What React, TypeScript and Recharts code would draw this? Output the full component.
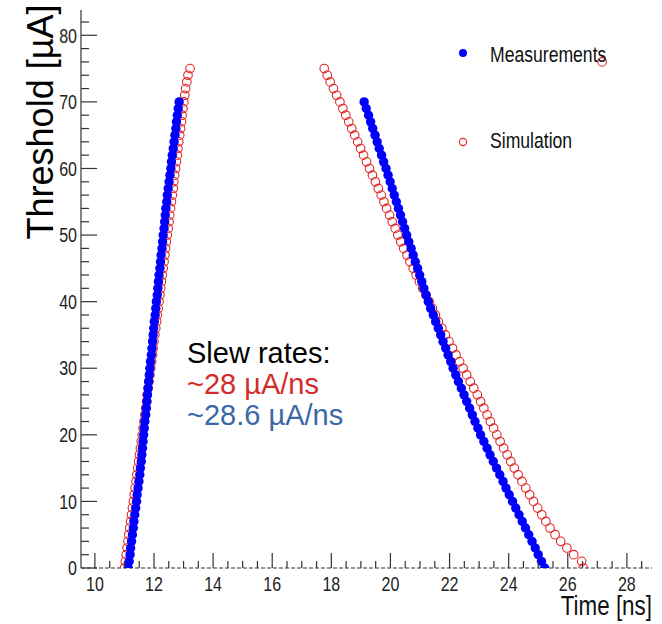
import React from 'react';
import { ScatterChart, Scatter, XAxis, YAxis, Legend } from 'recharts';

// ---- data ----
const measThresholds = [0,1,2,3,4,5,6,7,8,9,10,11,12,13,14,15,16,17,18,19,20,21,22,23,24,25,26,27,28,29,30,31,32,33,34,35,36,37,38,39,40,41,42,43,44,45,46,47,48,49,50,51,52,53,54,55,56,57,58,59,60,61,62,63,64,65,66,67,68,69,70];
const measRiseTime = [11.13,11.16,11.19,11.21,11.24,11.27,11.30,11.32,11.35,11.38,11.41,11.43,11.46,11.49,11.52,11.54,11.57,11.59,11.61,11.63,11.65,11.67,11.69,11.72,11.74,11.76,11.78,11.80,11.82,11.84,11.86,11.88,11.91,11.93,11.95,11.97,11.99,12.01,12.04,12.06,12.08,12.11,12.13,12.15,12.17,12.20,12.22,12.24,12.27,12.29,12.31,12.34,12.36,12.38,12.40,12.43,12.45,12.48,12.51,12.54,12.57,12.59,12.62,12.65,12.68,12.71,12.74,12.76,12.79,12.82,12.85];
const measFallTime = [25.22,25.11,25.00,24.90,24.79,24.68,24.57,24.46,24.35,24.24,24.13,24.02,23.91,23.81,23.70,23.59,23.48,23.37,23.27,23.16,23.05,22.96,22.86,22.77,22.68,22.58,22.49,22.40,22.30,22.21,22.12,22.04,21.95,21.87,21.78,21.70,21.62,21.53,21.45,21.36,21.28,21.21,21.13,21.06,20.99,20.92,20.84,20.77,20.70,20.62,20.55,20.48,20.41,20.34,20.27,20.20,20.13,20.06,19.99,19.92,19.85,19.77,19.70,19.62,19.55,19.48,19.40,19.33,19.26,19.18,19.11];

const simThresholds = [0,1,2,3,4,5,6,7,8,9,10,11,12,13,14,15,16,17,18,19,20,21,22,23,24,25,26,27,28,29,30,31,32,33,34,35,36,37,38,39,40,41,42,43,44,45,46,47,48,49,50,51,52,53,54,55,56,57,58,59,60,61,62,63,64,65,66,67,68,69,70,71,72,73,74,75];
const simRiseTime = [11.00,11.03,11.06,11.09,11.12,11.15,11.18,11.21,11.24,11.27,11.30,11.33,11.36,11.39,11.42,11.45,11.48,11.51,11.54,11.57,11.60,11.63,11.66,11.69,11.72,11.75,11.77,11.80,11.83,11.86,11.89,11.92,11.95,11.97,12.00,12.03,12.06,12.09,12.11,12.14,12.17,12.20,12.23,12.25,12.28,12.31,12.34,12.37,12.39,12.42,12.45,12.48,12.51,12.53,12.56,12.59,12.62,12.65,12.67,12.70,12.73,12.76,12.79,12.81,12.84,12.87,12.90,12.93,12.95,12.98,13.01,13.04,13.07,13.11,13.15,13.22];
const simFallTime = [26.52,26.47,26.20,25.97,25.76,25.57,25.40,25.26,25.12,24.98,24.84,24.71,24.58,24.45,24.32,24.19,24.07,23.95,23.83,23.71,23.60,23.49,23.38,23.27,23.16,23.05,22.94,22.82,22.70,22.58,22.46,22.34,22.22,22.10,21.98,21.86,21.74,21.62,21.52,21.42,21.31,21.20,21.09,20.98,20.87,20.77,20.66,20.56,20.45,20.35,20.25,20.16,20.06,19.97,19.87,19.78,19.69,19.59,19.49,19.39,19.29,19.19,19.09,18.99,18.89,18.79,18.69,18.59,18.49,18.39,18.29,18.18,18.07,17.96,17.86,17.76];
const simStrayTime = [27.16];
const simStrayThreshold = [76];

const xTicks = [10,10.5,11,11.5,12,12.5,13,13.5,14,14.5,15,15.5,16,16.5,17,17.5,18,18.5,19,19.5,20,20.5,21,21.5,22,22.5,23,23.5,24,24.5,25,25.5,26,26.5,27,27.5,28,28.5];
const yTicks = [0,2,4,6,8,10,12,14,16,18,20,22,24,26,28,30,32,34,36,38,40,42,44,46,48,50,52,54,56,58,60,62,64,66,68,70,72,74,76,78,80,82];

const xDomain: [number, number] = [9.53, 28.85];
const yDomain: [number, number] = [0, 83.8];

const measurements = [
  ...measThresholds.map((t, i) => ({ x: measRiseTime[i], y: t })),
  ...measThresholds.map((t, i) => ({ x: measFallTime[i], y: t })),
];
const simulation = [
  ...simThresholds.map((t, i) => ({ x: simRiseTime[i], y: t })),
  ...simThresholds.map((t, i) => ({ x: simFallTime[i], y: t })),
  ...simStrayTime.map((x, i) => ({ x, y: simStrayThreshold[i] })),
];

const SANS = "'Liberation Sans', Arial, sans-serif";
const AXIS = '#333';
const NARROW_SCALE = 0.8;

// condensed text (ROOT-style narrow Helvetica) made by horizontal scaling
const NText = ({ x, y, anchor = 'start', size, fill = '#222', children, dy }: any) => (
  <text
    transform={`translate(${x},${y}) scale(${NARROW_SCALE},1)`}
    x={0}
    y={0}
    dy={dy}
    textAnchor={anchor}
    fontFamily={SANS}
    fontSize={size}
    fill={fill}
  >
    {children}
  </text>
);

const YTick = (props: any) => {
  const { x, y, payload } = props;
  const v = payload.value;
  const major = Math.abs(v % 10) < 1e-6;
  return (
    <g>
      <line x1={x} y1={y} x2={x + (major ? 16 : 8)} y2={y} stroke={AXIS} strokeWidth={1.2} />
      {major && (
        <NText x={x - 4} y={y} dy="0.36em" anchor="end" size={20}>
          {v}
        </NText>
      )}
    </g>
  );
};

const XTick = (props: any) => {
  const { x, y, payload } = props;
  const v = payload.value;
  const major = Math.abs(v % 2) < 1e-6;
  return (
    <g>
      <line x1={x} y1={y} x2={x} y2={y - (major ? 15 : 7)} stroke={AXIS} strokeWidth={1.2} />
      {major && (
        <NText x={x} y={y + 23} anchor="middle" size={20}>
          {v}
        </NText>
      )}
    </g>
  );
};

const MeasDot = (p: any) => <circle cx={p.cx} cy={p.cy} r={4.7} fill="#0000ff" />;
const SimDot = (p: any) => <circle cx={p.cx} cy={p.cy} r={4.3} fill="none" stroke="#e02424" strokeWidth={1.1} />;

const LegendBox = () => (
  <div style={{ position: 'relative', width: 190, height: 125 }}>
    <svg width={190} height={125}>
      <circle cx={11} cy={15} r={4} fill="#0000ff" />
      <NText x={38} y={24} size={22} fill="#111">Measurements</NText>
      <circle cx={11} cy={104} r={3.6} fill="none" stroke="#e02424" strokeWidth={1.1} />
      <NText x={38} y={110} size={22} fill="#111">Simulation</NText>
    </svg>
  </div>
);

export default function App() {
  return (
    <div style={{ position: 'absolute', left: 0, top: 0, width: 662, height: 624, background: '#fff' }}>
      <ScatterChart width={662} height={624} margin={{ top: 10, right: 10, bottom: 0, left: 0 }}>
        <XAxis
          xAxisId="b"
          type="number"
          dataKey="x"
          domain={xDomain}
          allowDataOverflow
          ticks={xTicks}
          interval={0}
          height={56}
          tickSize={0}
          tickMargin={0}
          tickLine={false}
          tick={<XTick />}
          axisLine={{ stroke: AXIS, strokeWidth: 1.2, strokeDasharray: '4 2' }}
        />
        <XAxis
          xAxisId="t"
          orientation="top"
          type="number"
          domain={xDomain}
          allowDataOverflow
          height={0}
          tick={false}
          tickLine={false}
          axisLine={{ stroke: '#555', strokeWidth: 1 }}
        />
        <YAxis
          yAxisId="l"
          type="number"
          dataKey="y"
          domain={yDomain}
          allowDataOverflow
          ticks={yTicks}
          interval={0}
          width={81}
          tickSize={0}
          tickMargin={0}
          tickLine={false}
          tick={<YTick />}
          axisLine={{ stroke: AXIS, strokeWidth: 1.2 }}
        />
        <YAxis
          yAxisId="r"
          orientation="right"
          type="number"
          domain={yDomain}
          allowDataOverflow
          width={0}
          tick={false}
          tickLine={false}
          axisLine={{ stroke: '#555', strokeWidth: 1 }}
        />
        <Legend
          layout="vertical"
          align="center"
          verticalAlign="middle"
          content={<LegendBox />}
          wrapperStyle={{ left: 452, top: 38, width: 190, height: 125 }}
        />
        <Scatter name="Simulation" data={simulation} xAxisId="b" yAxisId="l" shape={<SimDot />} isAnimationActive={false} />
        <Scatter name="Measurements" data={measurements} xAxisId="b" yAxisId="l" shape={<MeasDot />} isAnimationActive={false} />
      </ScatterChart>
      <svg width={662} height={624} style={{ position: 'absolute', left: 0, top: 0, pointerEvents: 'none' }}>
        <text transform="rotate(-90)" x={-122} y={53} textAnchor="middle" fontFamily={SANS} fontSize={36} fill="#000">
          Threshold [µA]
        </text>
        <NText x={652} y={615} anchor="end" size={28} fill="#111">
          Time [ns]
        </NText>
        <text x={187} y={363} fontFamily={SANS} fontSize={29} fill="#000">Slew rates:</text>
        <text x={187} y={394} fontFamily={SANS} fontSize={29} fill="#d42b2b">~28 µA/ns</text>
        <text x={187} y={425} fontFamily={SANS} fontSize={29} fill="#3a68a6">~28.6 µA/ns</text>
      </svg>
    </div>
  );
}
